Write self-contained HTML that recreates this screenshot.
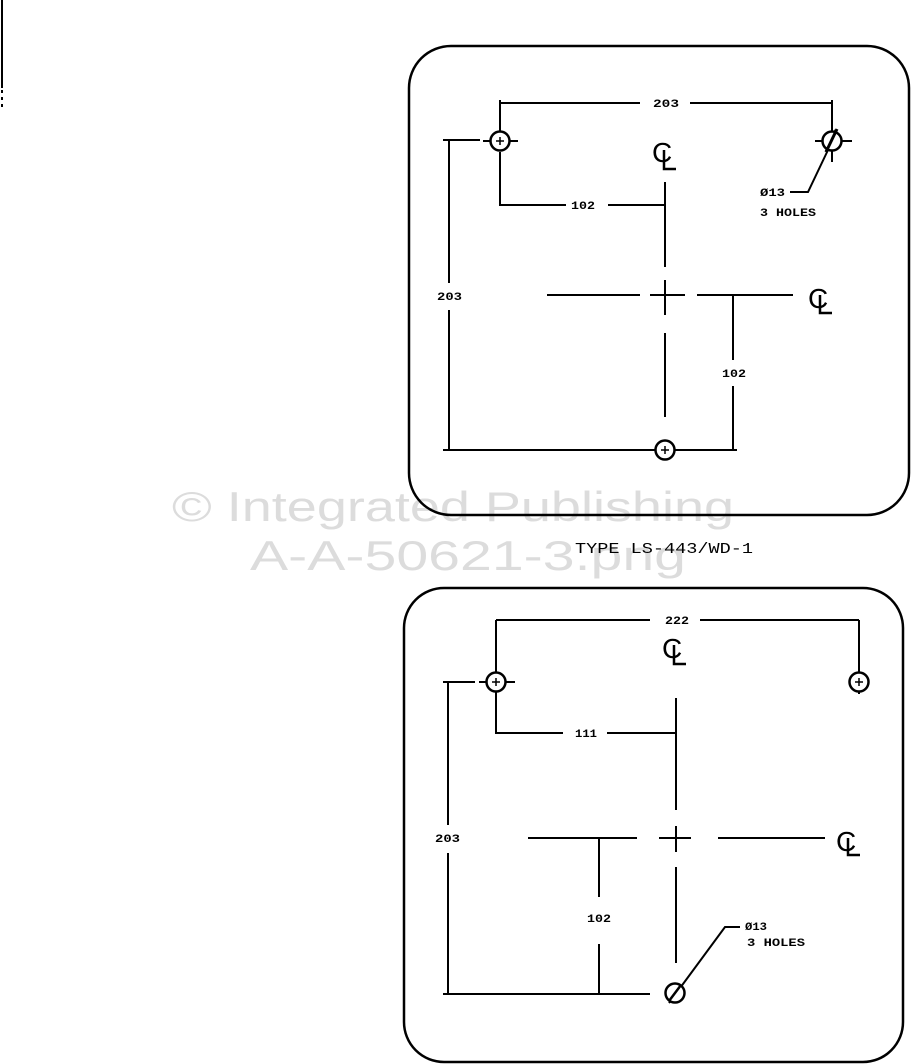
<!DOCTYPE html>
<html><head><meta charset="utf-8"><style>
html,body{margin:0;padding:0;background:#fff;}
svg{display:block}
</style></head><body>
<svg width="912" height="1064" viewBox="0 0 912 1064" xmlns="http://www.w3.org/2000/svg">
<g font-family="Liberation Sans, sans-serif" fill="#dcdcdc">
<text x="172" y="521" font-size="42" textLength="562" lengthAdjust="spacingAndGlyphs">© Integrated Publishing</text>
<text x="250" y="570" font-size="42" textLength="436" lengthAdjust="spacingAndGlyphs">A-A-50621-3.png</text>
</g>
<g stroke="#000" fill="none" stroke-width="2">
<line x1="2" y1="0" x2="2" y2="88"/>
<line x1="2" y1="90" x2="2" y2="110" stroke-dasharray="3,4"/>
<!-- top panel -->
<rect x="409" y="46" width="500" height="469" rx="42" ry="42" stroke-width="2.5"/>
<line x1="483" y1="141" x2="518" y2="141"/><line x1="500" y1="152" x2="500" y2="206"/><line x1="500" y1="100" x2="500" y2="131"/>
<line x1="815" y1="141" x2="852" y2="141"/><line x1="832" y1="100" x2="832" y2="162"/>
<line x1="675" y1="450" x2="737" y2="450"/>
<line x1="500" y1="103" x2="640" y2="103"/><line x1="690" y1="103" x2="832" y2="103"/>
<line x1="500" y1="205" x2="566" y2="205"/><line x1="608" y1="205" x2="665" y2="205"/>
<line x1="665" y1="182" x2="665" y2="267"/><line x1="665" y1="280" x2="665" y2="315"/><line x1="665" y1="333" x2="665" y2="417"/>
<line x1="547" y1="295" x2="640" y2="295"/><line x1="650" y1="295" x2="685" y2="295"/><line x1="697" y1="295" x2="793" y2="295"/>
<line x1="443" y1="140" x2="480" y2="140"/><line x1="449" y1="140" x2="449" y2="283"/><line x1="449" y1="310" x2="449" y2="450"/>
<line x1="443" y1="450" x2="655" y2="450"/>
<line x1="733" y1="295" x2="733" y2="360"/><line x1="733" y1="386" x2="733" y2="450"/>
<polyline points="828,150 808,192 790,192"/>
<line x1="826" y1="152" x2="836" y2="130" stroke-width="3"/>
<!-- bottom panel -->
<rect x="404" y="588" width="499" height="474" rx="40" ry="40" stroke-width="2.5"/>
<line x1="479" y1="682" x2="515" y2="682"/><line x1="496" y1="620" x2="496" y2="672"/><line x1="496" y1="692" x2="496" y2="734"/>
<line x1="859" y1="620" x2="859" y2="672"/><line x1="859" y1="692" x2="859" y2="694"/>
<line x1="496" y1="620" x2="650" y2="620"/><line x1="700" y1="620" x2="859" y2="620"/>
<line x1="496" y1="733" x2="563" y2="733"/><line x1="607" y1="733" x2="676" y2="733"/>
<line x1="676" y1="698" x2="676" y2="810"/><line x1="676" y1="826" x2="676" y2="852"/><line x1="676" y1="867" x2="676" y2="963"/>
<line x1="528" y1="838" x2="637" y2="838"/><line x1="659" y1="838" x2="691" y2="838"/><line x1="718" y1="838" x2="825" y2="838"/>
<line x1="443" y1="682" x2="475" y2="682"/><line x1="448" y1="682" x2="448" y2="825"/><line x1="448" y1="853" x2="448" y2="993"/>
<line x1="443" y1="994" x2="650" y2="994"/>
<line x1="599" y1="838" x2="599" y2="897"/><line x1="599" y1="944" x2="599" y2="994"/>
<polyline points="669,1003 725,927 740,927"/>
</g>
<g stroke="#000" fill="#fff" stroke-width="2.5">
<circle cx="500" cy="141" r="9.5"/><circle cx="832" cy="141" r="9.5"/><circle cx="665" cy="450" r="9.5"/>
<circle cx="496" cy="682" r="9.5"/><circle cx="859" cy="682" r="9.5"/><circle cx="675" cy="993" r="9.5"/>
</g>
<g font-family="Liberation Mono, monospace" font-weight="bold" fill="#000" font-size="11">
<text x="653" y="107" textLength="26" lengthAdjust="spacingAndGlyphs">203</text>
<text x="571" y="209" textLength="24" lengthAdjust="spacingAndGlyphs">102</text>
<text x="437" y="300" textLength="25" lengthAdjust="spacingAndGlyphs">203</text>
<text x="722" y="377" textLength="24" lengthAdjust="spacingAndGlyphs">102</text>
<text x="760" y="196" textLength="25" lengthAdjust="spacingAndGlyphs">Ø13</text>
<text x="760" y="216" textLength="56" lengthAdjust="spacingAndGlyphs">3 HOLES</text>
<text x="665" y="624" textLength="24" lengthAdjust="spacingAndGlyphs">222</text>
<text x="575" y="737" textLength="22" lengthAdjust="spacingAndGlyphs">111</text>
<text x="435" y="842" textLength="25" lengthAdjust="spacingAndGlyphs">203</text>
<text x="587" y="922" textLength="24" lengthAdjust="spacingAndGlyphs">102</text>
<text x="745" y="930" textLength="22" lengthAdjust="spacingAndGlyphs">Ø13</text>
<text x="747" y="946" textLength="58" lengthAdjust="spacingAndGlyphs">3 HOLES</text>
</g>
<text x="575" y="553" font-family="Liberation Mono, monospace" font-size="15" fill="#000" textLength="178" lengthAdjust="spacingAndGlyphs">TYPE LS-443/WD-1</text>
<g font-family="Liberation Sans, sans-serif" fill="#000" font-size="28">
<text x="652" y="162">C</text><text x="808" y="308">C</text>
<text x="662" y="658">C</text><text x="836" y="851">C</text>
</g>
<g stroke="#000" stroke-width="2.5" fill="none">
<polyline points="664,150 664,169 676,169"/>
<polyline points="820,295 820,313 832,313"/>
<polyline points="674,645 674,664 686,664"/>
<polyline points="848,838 848,855 860,855"/>
</g>
<g stroke="#000" stroke-width="1.5">
<line x1="496" y1="141" x2="504" y2="141"/><line x1="500" y1="137" x2="500" y2="145"/>
<line x1="661" y1="450" x2="669" y2="450"/><line x1="665" y1="446" x2="665" y2="454"/>
<line x1="492" y1="682" x2="500" y2="682"/><line x1="496" y1="678" x2="496" y2="686"/>
<line x1="855" y1="682" x2="863" y2="682"/><line x1="859" y1="678" x2="859" y2="686"/>
<line x1="826" y1="152" x2="837" y2="129" stroke-width="3"/>
<line x1="669" y1="1001" x2="681" y2="985" stroke-width="2.5"/>
</g>
</svg>
</body></html>
